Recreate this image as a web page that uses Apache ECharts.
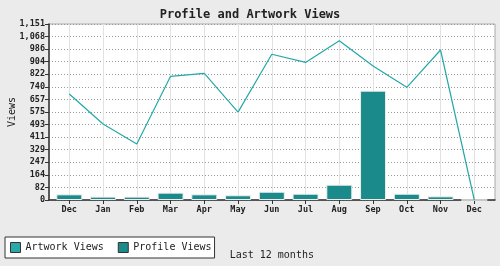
<!DOCTYPE html>
<html>
<head>
<meta charset="utf-8">
<script src="https://cdn.jsdelivr.net/npm/echarts@6/dist/echarts.min.js"></script>
<style>html,body{margin:0;padding:0;background:#ebebeb;}#c{width:500px;height:266px;}</style>
</head>
<body>
<div id="c"></div>
<script>
var months = ['Dec','Jan','Feb','Mar','Apr','May','Jun','Jul','Aug','Sep','Oct','Nov','Dec'];
var artworkViews = [693, 497, 366, 809, 828, 575, 953, 900, 1042, 876, 737, 981, 0];
var profileViews = [37, 22, 22, 48, 37, 31, 54, 41, 100, 715, 41, 24, 0];
var yTickLabels = ['0','82','164','247','329','411','493','575','657','740','822','904','986','1,068','1,151'];
var yMax = 1151;
var ySteps = 14;

var mono = 'DejaVu Sans Mono';
var chart = echarts.init(document.getElementById('c'), null, {renderer: 'canvas'});
chart.setOption({
  backgroundColor: '#ebebeb',
  animation: false,
  title: {
    text: 'Profile and Artwork Views',
    left: 'center', top: 4,
    textStyle: {fontFamily: mono, fontSize: 12, fontWeight: 'bold', color: '#222'}
  },
  legend: {
    data: ['Artwork Views', 'Profile Views'],
    left: 5, top: 237,
    orient: 'horizontal',
    padding: [5, 3, 5, 5],
    itemGap: 14,
    itemWidth: 10, itemHeight: 10,
    backgroundColor: '#ffffff',
    borderColor: '#333', borderWidth: 1,
    icon: 'rect',
    itemStyle: {borderColor: '#333', borderWidth: 1},
    textStyle: {fontFamily: mono, fontSize: 10, color: '#222'}
  },
  grid: [
    {left: 49, right: 5, top: 24, bottom: 66, show: true, backgroundColor: '#ffffff', borderColor: '#aaaaaa', borderWidth: 1, outerBoundsMode: 'none', containLabel: false},
    {left: 69.3, right: 25.7, top: 24, bottom: 66, show: false, outerBoundsMode: 'none', containLabel: false}
  ],
  xAxis: [
    {gridIndex: 0, type: 'category', data: months, boundaryGap: true,
     axisLine: {show: true, lineStyle: {color: '#333', width: 1.5}},
     axisTick: {show: false}, axisLabel: {show: false}, splitLine: {show: false}},
    {gridIndex: 1, type: 'category', data: months, boundaryGap: false,
     name: 'Last 12 months', nameLocation: 'middle', nameGap: 50, nameMoveOverlap: false,
     nameTextStyle: {fontFamily: mono, fontSize: 10, color: '#222'},
     axisLine: {show: false},
     axisTick: {show: true, alignWithLabel: true, length: 4, lineStyle: {color: '#333'}},
     axisLabel: {fontFamily: mono, fontSize: 8.5, fontWeight: 'bold', color: '#222', margin: 5, interval: 0},
     splitLine: {show: true, interval: 0, lineStyle: {color: '#e2e2e2', width: 1}}}
  ],
  yAxis: [
    {gridIndex: 0, type: 'value', min: 0, max: yMax, interval: yMax / ySteps,
     name: 'Views', nameLocation: 'middle', nameGap: 32, nameRotate: 90, nameMoveOverlap: false,
     nameTextStyle: {fontFamily: mono, fontSize: 10, color: '#222'},
     axisLine: {show: true, lineStyle: {color: '#333', width: 1.5}},
     axisTick: {show: true, length: 4, lineStyle: {color: '#333'}},
     axisLabel: {fontFamily: mono, fontSize: 8.5, fontWeight: 'bold', color: '#222', margin: 4,
       formatter: function (v) { return yTickLabels[Math.round(v / (yMax / ySteps))] || ''; }},
     splitLine: {show: true, lineStyle: {color: '#999', width: 1, type: [1, 2]}}},
    {gridIndex: 1, type: 'value', min: 0, max: yMax, show: false, splitLine: {show: false}}
  ],
  series: [
    {name: 'Profile Views', type: 'bar', xAxisIndex: 1, yAxisIndex: 1, data: profileViews,
     barWidth: 26, itemStyle: {color: '#1b8a8a', borderColor: '#eeeeee', borderWidth: 1}},
    {name: 'Artwork Views', type: 'line', xAxisIndex: 1, yAxisIndex: 1, data: artworkViews,
     symbol: 'none', lineStyle: {color: '#26a8a8', width: 1.2}, itemStyle: {color: '#2aa9a9'}}
  ]
});
</script>
</body>
</html>
